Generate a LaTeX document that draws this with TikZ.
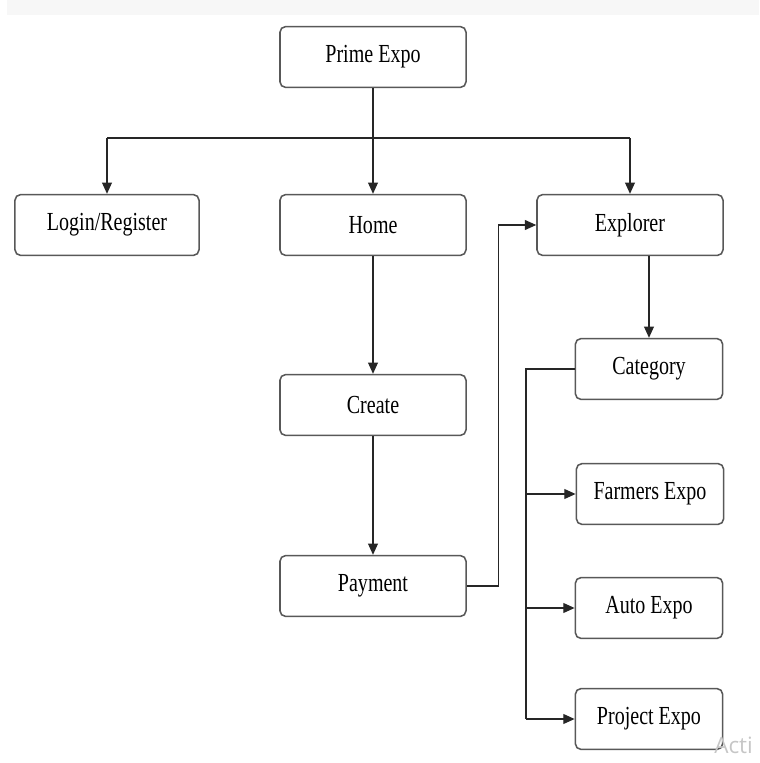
\documentclass[tikz,border=0pt]{standalone}
\usepackage{fontspec}
\setmainfont{Liberation Serif}[FakeStretch=0.77]
\newfontfamily\markfont{Open Sans}
\usetikzlibrary{arrows.meta, positioning, calc}
\definecolor{boxgray}{RGB}{88, 88, 88}

\begin{document}
\begin{tikzpicture}[
  x=0.025cm, y=-0.025cm,
  ebox/.style={draw=boxgray, line width=1.1pt, rounded corners=4pt, minimum width=4.65cm, minimum height=1.52cm, inner sep=2pt, font=\fontsize{18.5}{20}\selectfont},
  sbox/.style={ebox, minimum width=3.68cm},
  link/.style={draw=black!85, line width=0.9pt},
  flow/.style={link, -{Triangle[length=8pt, width=7pt]}}
]
  \useasboundingbox (0,0) rectangle (759,763);
  \fill[gray!6] (7,0) rectangle (759,15);

  \node[ebox] (prime) at (373,57) {Prime Expo};
  \node[ebox, minimum width=4.6cm] (login) at (107,225) {Login/Register};
  \node[ebox] (home) at (373,225) {Home};
  \node[ebox] (explorer) at (630,225) {Explorer};
  \node[ebox] (create) at (373,405) {Create};
  \node[ebox] (payment) at (373,586) {Payment};
  \node[sbox] (category) at (649,369) {Category};
  \node[sbox] (farmers) at (650,494) {Farmers Expo};
  \node[sbox] (auto) at (649,608) {Auto Expo};
  \node[sbox] (project) at (649,719) {Project Expo};

  \coordinate (split) at (373,138);
  \coordinate (branch) at (526,376);

  % top level
  \draw[link] (prime) -- (split);
  \draw[link] (split -| login) -- (split -| explorer);
  \draw[flow] (split -| login) -- (login.north);
  \draw[flow] (split) -- (home);
  \draw[flow] (split -| explorer) -- (explorer);

  % home branch
  \draw[flow] (home) -- (create);
  \draw[flow] (create) -- (payment);
  \draw[flow] (payment.east) -- ++(32,0) |- (explorer.west);

  % explorer branch
  \draw[flow] (category.north |- explorer.south) -- (category.north);
  \draw[link] (category.west) -- (category.west -| branch) -- (project.west -| branch);
  \foreach \n in {farmers, auto, project}
    \draw[flow] (\n.west -| branch) -- (\n.west);

  \node[text=gray!45, font=\markfont\fontsize{16}{16}\selectfont, anchor=north west, inner sep=0] (mark) at (714,737) {Acti};
\end{tikzpicture}
\end{document}
